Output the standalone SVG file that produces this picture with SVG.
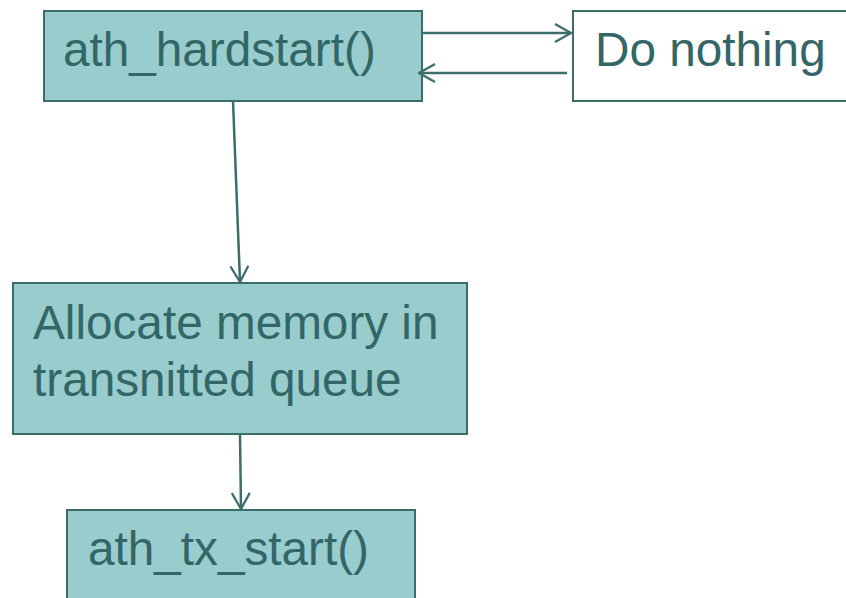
<svg xmlns="http://www.w3.org/2000/svg" width="846" height="598" viewBox="0 0 846 598">
<style>
.node{fill:#99CCCC;stroke:#3B6D6A;stroke-width:2}
.plain{fill:#FFFFFF;stroke:#3B6D6A;stroke-width:2}
.lbl{font-family:"Liberation Sans",Arial,sans-serif;font-size:47.7px;fill:#336666}
.conn{fill:none;stroke:#3B6D6A;stroke-width:2.5}
</style>
<defs>
<marker id="arr" viewBox="0 0 18 20" refX="17" refY="10" markerWidth="18" markerHeight="20" markerUnits="userSpaceOnUse" orient="auto">
<path d="M1,1 L17,10 L1,19" fill="none" stroke="#3B6D6A" stroke-width="2.2"/>
</marker>
</defs>
<rect width="846" height="598" fill="#FFFFFF"/>
<g id="n_hardstart">
<rect class="node" x="44" y="11" width="378" height="90"/>
<text class="lbl" x="63" y="66">ath_hardstart()</text>
</g>
<g id="n_nothing">
<rect class="plain" x="573" y="11" width="290" height="90"/>
<text class="lbl" x="595" y="66">Do nothing</text>
</g>
<g id="n_alloc">
<rect class="node" x="13" y="283" width="454" height="151"/>
<text class="lbl" x="33" y="339">Allocate memory in</text>
<text class="lbl" x="33" y="396">transnitted queue</text>
</g>
<g id="n_txstart">
<rect class="node" x="67" y="510" width="348" height="100"/>
<text class="lbl" x="88" y="565">ath_tx_start()</text>
</g>
<g id="connectors">
<line class="conn" x1="422" y1="33" x2="571" y2="33" marker-end="url(#arr)"/>
<line class="conn" x1="567" y1="73" x2="419" y2="73" marker-end="url(#arr)"/>
<line class="conn" x1="233" y1="101" x2="240" y2="282" marker-end="url(#arr)"/>
<line class="conn" x1="240" y1="434" x2="241" y2="509" marker-end="url(#arr)"/>
</g>
</svg>
